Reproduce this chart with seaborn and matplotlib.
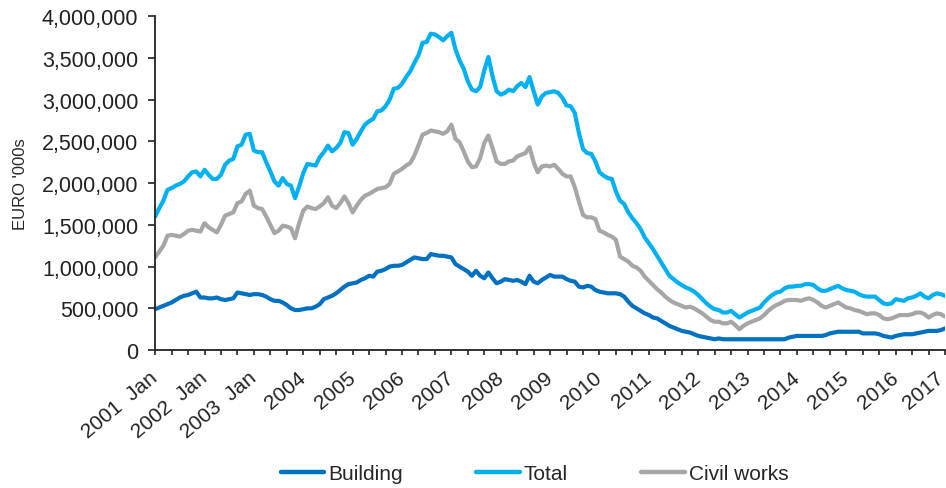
import pandas as pd
import matplotlib
matplotlib.use("Agg")
import matplotlib.pyplot as plt
import matplotlib.ticker as mticker
import matplotlib.transforms as mtransforms
import seaborn as sns
import numpy as np

# --- data (EURO '000s, monthly from Jan 2001 to Jan 2017) ---
building_k = [
    490, 510, 530, 550, 570, 600, 630, 650, 660, 680, 700, 630,
    630, 620, 620, 630, 610, 600, 610, 620, 690, 680, 670, 660,
    670, 670, 660, 640, 610, 590, 590, 570, 540, 500, 480, 480,
    490, 500, 500, 520, 550, 610, 630, 650, 680, 720, 760, 790,
    800, 810, 840, 860, 890, 880, 940, 950, 970, 1000, 1010, 1010,
    1020, 1050, 1080, 1110, 1100, 1090, 1090, 1150, 1140, 1130, 1130, 1120,
    1110, 1030, 1000, 970, 940, 890, 950, 890, 860, 930, 860, 800,
    820, 850, 840, 830, 840, 820, 790, 890, 820, 800, 840, 870,
    900, 880, 880, 880, 850, 830, 820, 760, 750, 770, 760, 720,
    700, 690, 680, 680, 680, 670, 640, 580, 530, 500, 470, 440,
    420, 390, 380, 350, 320, 290, 270, 250, 230, 220, 210, 190,
    170, 160, 150, 140, 130, 140, 130, 130, 130, 130, 130, 130,
    130, 130, 130, 130, 130, 130, 130, 130, 130, 130, 150, 160,
    170, 170, 170, 170, 170, 170, 170, 180, 200, 210, 220, 220,
    220, 220, 220, 220, 200, 200, 200, 200, 190, 170, 160, 150,
    170, 180, 190, 190, 190, 200, 210, 220, 230, 230, 230, 240, 260,
]
total_k = [
    1600, 1700, 1790, 1920, 1940, 1970, 1990, 2020, 2080, 2130, 2140, 2080,
    2160, 2100, 2050, 2050, 2100, 2220, 2270, 2290, 2440, 2460, 2580, 2590,
    2390, 2370, 2370, 2250, 2140, 2020, 1970, 2060, 1990, 1970, 1820, 1960,
    2120, 2230, 2220, 2210, 2310, 2370, 2450, 2380, 2420, 2480, 2610, 2600,
    2460, 2530, 2620, 2700, 2740, 2770, 2860, 2870, 2920, 3000, 3130, 3140,
    3190, 3270, 3340, 3440, 3530, 3680, 3690, 3790, 3780, 3750, 3710, 3760,
    3800, 3600, 3470, 3370, 3220, 3120, 3100, 3150, 3350, 3510, 3280, 3100,
    3060, 3080, 3120, 3100, 3160, 3200, 3150, 3270, 3100, 2940, 3040, 3080,
    3090, 3100, 3080, 3020, 2930, 2920, 2840, 2600, 2410, 2360, 2350, 2260,
    2130, 2090, 2060, 2050, 1900, 1790, 1750, 1650, 1580, 1520, 1450, 1350,
    1280, 1210, 1130, 1050, 970, 890, 850, 810, 780, 750, 730, 700,
    660, 610, 560, 520, 490, 480, 450, 450, 470, 430, 390, 420,
    450, 470, 490, 510, 570, 620, 660, 690, 700, 740, 760, 760,
    770, 770, 790, 790, 780, 740, 710, 710, 730, 750, 770, 740,
    720, 710, 700, 670, 650, 640, 640, 640, 600, 560, 550, 560,
    610, 600, 590, 620, 630, 650, 680, 640, 620, 660, 680, 670, 650,
]
civil_k = [
    1110, 1180, 1250, 1370, 1380, 1370, 1360, 1390, 1430, 1440, 1430, 1420,
    1520, 1470, 1440, 1410, 1500, 1610, 1630, 1650, 1760, 1780, 1870, 1910,
    1730, 1700, 1690, 1600, 1500, 1400, 1430, 1490, 1480, 1460, 1340, 1520,
    1670, 1720, 1700, 1690, 1720, 1760, 1830, 1730, 1700, 1760, 1840, 1760,
    1650, 1730, 1800, 1850, 1870, 1900, 1930, 1940, 1950, 1990, 2110, 2140,
    2170, 2210, 2240, 2330, 2450, 2580, 2600, 2630, 2620, 2610, 2590, 2620,
    2700, 2530, 2490, 2380, 2260, 2190, 2200, 2300, 2480, 2570, 2420, 2260,
    2230, 2230, 2260, 2270, 2320, 2340, 2360, 2430, 2250, 2130, 2200, 2210,
    2200, 2220, 2170, 2110, 2080, 2080, 1950, 1780, 1620, 1590, 1590, 1570,
    1430, 1410, 1380, 1360, 1320, 1120, 1090, 1060, 1010, 990, 950, 880,
    830, 780, 730, 690, 640, 600, 570, 550, 530, 510, 520, 500,
    470, 440, 400, 360, 340, 340, 320, 320, 340, 300, 250, 290,
    320, 340, 360, 380, 420, 470, 510, 540, 560, 590, 600, 600,
    600, 590, 610, 620, 600, 570, 530, 510, 530, 550, 570, 540,
    510, 500, 480, 470, 450, 430, 440, 440, 420, 380, 370, 380,
    400, 420, 420, 420, 430, 450, 450, 430, 390, 420, 440, 430, 400,
]
years = list(range(2001, 2018))
year_labels = ["2001  Jan", "2002  Jan", "2003  Jan"] + [str(y) for y in years[3:]]

series_names = ["Building", "Total", "Civil works"]
colours = {"Building": "#0070C0", "Total": "#00B0F0", "Civil works": "#A6A6A6"}

frames = []
for name, vals in zip(series_names, [building_k, total_k, civil_k]):
    frames.append(pd.DataFrame({"month": np.arange(len(vals)),
                                "value": np.array(vals) * 1000,
                                "series": name}))
df = pd.concat(frames, ignore_index=True)

# --- plot ---
sns.set_style("ticks")
plt.rcParams["font.family"] = ["Liberation Sans", "DejaVu Sans"]

fig = plt.figure(figsize=(9.46, 4.89), dpi=100)
ax = fig.add_axes([0.164, 0.282, 0.835, 0.683])

sns.lineplot(data=df, x="month", y="value", hue="series", hue_order=series_names,
             palette=colours, linewidth=3.0, ax=ax, legend=False)

ax.set_xlim(0, df["month"].max())
ax.set_ylim(0, 4_000_000)
ax.yaxis.set_major_locator(mticker.MultipleLocator(500_000))
ax.yaxis.set_major_formatter(mticker.FuncFormatter(lambda v, p: f"{int(v):,}"))

ax.xaxis.set_major_locator(mticker.FixedLocator([12 * i for i in range(len(years))]))
ax.xaxis.set_minor_locator(mticker.MultipleLocator(4))
ax.set_xticklabels(year_labels, rotation=40, ha="right", va="top", rotation_mode="anchor")

ax.tick_params(axis="y", labelsize=15.5, length=5, width=1.2, pad=7, colors="#222222")
ax.tick_params(axis="x", which="both", labelsize=15, length=3.6, width=1.2, pad=9, colors="#222222")

# nudge the rotated year labels so their right end sits on the tick
labels = ax.get_xticklabels()
for i, lab in enumerate(labels):
    dx = -0.1 if i == len(labels) - 1 else -0.06
    lab.set_transform(lab.get_transform() + mtransforms.ScaledTranslation(dx, 0, fig.dpi_scale_trans))

ax.set_xlabel("")
ax.set_ylabel("EURO '000s", fontsize=12, labelpad=10)

sns.despine(ax=ax)
for s in ["left", "bottom"]:
    ax.spines[s].set_color("#222222")
    ax.spines[s].set_linewidth(1.3)

handles = [plt.Line2D([0], [0], color=colours[n], linewidth=3.2) for n in series_names]
fig.legend(handles, series_names, loc="center", bbox_to_anchor=(0.565, 0.029), ncol=3,
           frameon=False, fontsize=15, handlelength=2.1, handletextpad=0.2, columnspacing=3.5)

fig.savefig("out.png", dpi=100)
